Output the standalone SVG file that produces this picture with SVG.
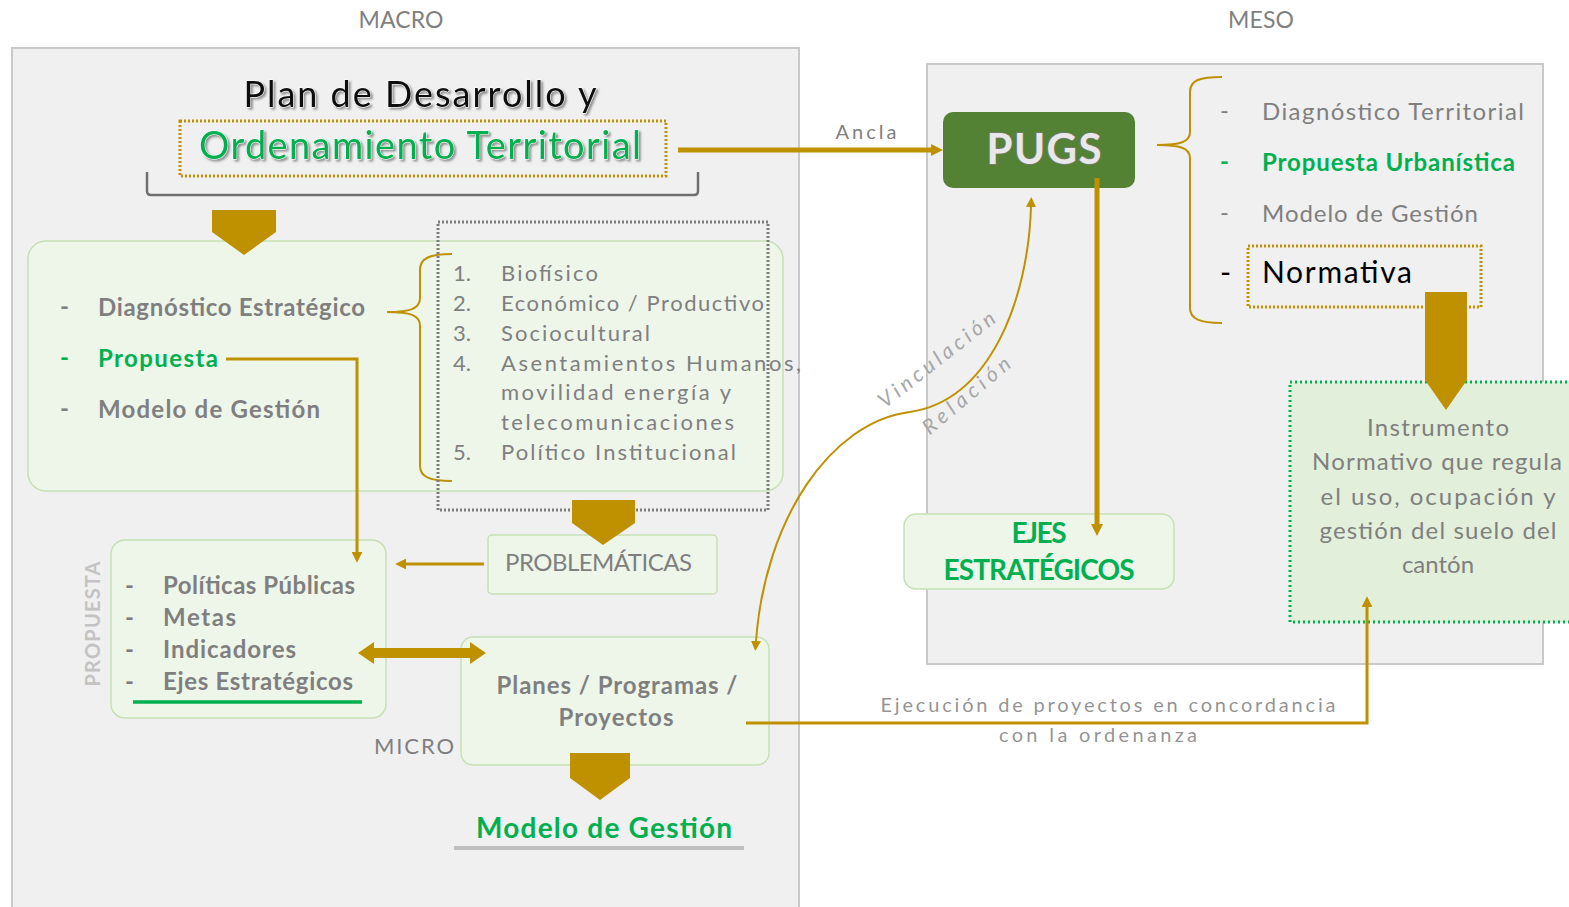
<svg xmlns="http://www.w3.org/2000/svg" width="1569" height="907" viewBox="0 0 1569 907">
<style>
text{font-family:Lato,"Liberation Sans",sans-serif}
.gray{fill:#7f7f7f}
.green{fill:#00b050}
.b{font-weight:bold}
.panel{fill:#f0f0f0;stroke:#c9c9c9;stroke-width:2}
.gbox{fill:#eef6e9;stroke:#c6e0b4;stroke-width:1.5}
.gold{fill:#bf9000}
.line{fill:none;stroke:#bf9000}
.dotg{fill:none;stroke:#bf9000;stroke-width:3;stroke-dasharray:2 2}
</style>
<defs>
<marker id="ahk" viewBox="0 0 10 10" refX="0" refY="5" markerWidth="2.4" markerHeight="3.2" orient="auto-start-reverse"><path d="M0,0 L10,5 L0,10 z" fill="#bf9000"/></marker>
<marker id="ahs" viewBox="0 0 10 10" refX="0" refY="5" markerWidth="3.6" markerHeight="3.6" orient="auto-start-reverse"><path d="M0,0 L10,5 L0,10 z" fill="#bf9000"/></marker>
<marker id="aht" viewBox="0 0 10 10" refX="0" refY="5" markerWidth="5" markerHeight="5" orient="auto-start-reverse"><path d="M0,0 L10,5 L0,10 z" fill="#bf9000"/></marker>
<filter id="sh" x="-10%" y="-10%" width="130%" height="140%"><feDropShadow dx="2" dy="2" stdDeviation="0.8" flood-color="#888" flood-opacity="0.9"/></filter>
</defs>
<rect width="1569" height="907" fill="#ffffff"/>

<g id="macro-panel">
<rect class="panel" x="12" y="48" width="787" height="880"/>
<text x="401" y="28" text-anchor="middle" class="gray" font-size="23" textLength="85">MACRO</text>
</g>
<g id="meso-panel">
<rect class="panel" x="927" y="64" width="616" height="600"/>
<text x="1261" y="28" text-anchor="middle" class="gray" font-size="23" textLength="66">MESO</text>
</g>

<g id="title">
<text x="420" y="107" text-anchor="middle" font-size="36" fill="#111" stroke="#fff" stroke-width="1" paint-order="stroke" filter="url(#sh)" textLength="353">Plan de Desarrollo y</text>
<rect class="dotg" x="180" y="121" width="486" height="55"/>
<text x="420" y="159" text-anchor="middle" font-size="38" class="green" stroke="#fff" stroke-width="1" paint-order="stroke" filter="url(#sh)" textLength="442">Ordenamiento Territorial</text>
<path d="M147,172 L147,191 Q147,195 151,195 L694,195 Q698,195 698,191 L698,172" fill="none" stroke="#6f6f6f" stroke-width="2.5"/>
</g>

<g id="pdot-box">
<rect class="gbox" x="28" y="241" width="755" height="250" rx="18"/>
<text x="60" y="315" class="gray b" font-size="24">-</text>
<text x="98" y="316" class="gray b" font-size="24" textLength="267">Diagnóstico Estratégico</text>
<text x="60" y="366" class="green b" font-size="24">-</text>
<text x="98" y="367" class="green b" font-size="24" textLength="120">Propuesta</text>
<text x="60" y="417" class="gray b" font-size="24">-</text>
<text x="98" y="418" class="gray b" font-size="24" textLength="222">Modelo de Gestión</text>
<path class="line" stroke-width="2" d="M452,254 C430,254 420,258 420,270 L420,298 C420,309 410,312 387,312 C410,312 420,315 420,326 L420,466 C420,477 430,481 452,481"/>
</g>

<g id="componentes">
<rect x="438" y="222" width="330" height="288" fill="none" stroke="#7a7a7a" stroke-width="3" stroke-dasharray="2 2"/>
<g class="gray" font-size="22">
<text x="453" y="281">1.</text><text x="501" y="281" textLength="97">Biofísico</text>
<text x="453" y="311">2.</text><text x="501" y="311" textLength="263">Económico / Productivo</text>
<text x="453" y="341">3.</text><text x="501" y="341" textLength="149">Sociocultural</text>
<text x="453" y="371">4.</text><text x="501" y="371" textLength="300">Asentamientos Humanos,</text>
<text x="501" y="400" textLength="230">movilidad energía y</text>
<text x="501" y="430" textLength="233">telecomunicaciones</text>
<text x="453" y="460">5.</text><text x="501" y="460" textLength="235">Político Institucional</text>
</g>
</g>

<g id="problematicas">
<rect class="gbox" x="488" y="535" width="229" height="59" rx="4"/>
<text x="505" y="571" class="gray" font-size="24" textLength="187">PROBLEMÁTICAS</text>
</g>

<g id="propuesta-box">
<rect class="gbox" x="111" y="540" width="275" height="178" rx="14"/>
<text transform="translate(100,624) rotate(-90)" text-anchor="middle" font-size="20" font-weight="bold" fill="#c3c3c3" textLength="125">PROPUESTA</text>
<g class="gray b" font-size="24">
<text x="125" y="594">-</text><text x="163" y="594" textLength="192">Políticas Públicas</text>
<text x="125" y="626">-</text><text x="163" y="626" textLength="73">Metas</text>
<text x="125" y="658">-</text><text x="163" y="658" textLength="133">Indicadores</text>
<text x="125" y="690">-</text><text x="163" y="690" textLength="190">Ejes Estratégicos</text>
</g>
<line x1="133" y1="702" x2="362" y2="702" stroke="#00b050" stroke-width="3.5"/>
</g>

<g id="planes">
<rect class="gbox" x="461" y="637" width="308" height="128" rx="12"/>
<text x="617" y="694" text-anchor="middle" class="gray b" font-size="24" textLength="241">Planes / Programas /</text>
<text x="616" y="726" text-anchor="middle" class="gray b" font-size="24" textLength="115">Proyectos</text>
<text x="374" y="754" class="gray" font-size="22" textLength="80">MICRO</text>
</g>

<g id="modelo-gestion">
<text x="604" y="838" text-anchor="middle" class="green b" font-size="28" textLength="256">Modelo de Gestión</text>
<line x1="454" y1="848" x2="744" y2="848" stroke="#bfbfbf" stroke-width="4"/>
</g>

<g id="pugs">
<rect x="943" y="112" width="192" height="76" rx="10" fill="#548235"/>
<text x="1044" y="164" text-anchor="middle" font-size="42" font-weight="bold" fill="#e8e8e8" stroke="#7a7a7a" stroke-width="1.5" paint-order="stroke" textLength="115">PUGS</text>
</g>

<g id="meso-list">
<path class="line" stroke-width="2" d="M1222,77 C1200,77 1190,80 1190,92 L1190,132 C1190,142 1180,145 1157,145 C1180,145 1190,148 1190,158 L1190,308 C1190,319 1200,323 1222,323"/>
<text x="1220" y="119" class="gray" font-size="24">-</text>
<text x="1262" y="120" class="gray" font-size="24" textLength="262">Diagnóstico Territorial</text>
<text x="1220" y="170" class="green b" font-size="24">-</text>
<text x="1262" y="171" class="green b" font-size="24" textLength="253">Propuesta Urbanística</text>
<text x="1220" y="221" class="gray" font-size="24">-</text>
<text x="1262" y="222" class="gray" font-size="24" textLength="216">Modelo de Gestión</text>
<rect class="dotg" x="1248" y="246" width="233" height="61"/>
<text x="1220" y="283" fill="#000" font-size="30">-</text>
<text x="1262" y="283" fill="#000" font-size="30" textLength="150">Normativa</text>
</g>

<g id="ejes">
<rect class="gbox" x="904" y="514" width="270" height="75" rx="12"/>
<text x="1039" y="543" text-anchor="middle" class="green b" font-size="28" textLength="55">EJES</text>
<text x="1039" y="580" text-anchor="middle" class="green b" font-size="28" textLength="191">ESTRATÉGICOS</text>
</g>

<g id="instrumento">
<rect x="1290" y="382" width="290" height="240" fill="#e2efda" stroke="#00b050" stroke-width="3" stroke-dasharray="2 3"/>
<g class="gray" font-size="24" text-anchor="middle">
<text x="1438" y="436" textLength="142">Instrumento</text>
<text x="1437" y="470" textLength="250">Normativo que regula</text>
<text x="1438" y="505" textLength="235">el uso, ocupación y</text>
<text x="1438" y="539" textLength="237">gestión del suelo del</text>
<text x="1438" y="573">cantón</text>
</g>
</g>

<g id="connectors">
<polygon class="gold" points="212,210 276,210 276,232 244,255 212,232"/>
<polygon class="gold" points="572,500 635,500 635,523 603,545 572,523"/>
<polygon class="gold" points="570,753 630,753 630,778 600,800 570,778"/>
<polygon class="gold" points="1425,292 1467,292 1467,380 1446,410 1425,380"/>
<line x1="678" y1="150" x2="931" y2="150" class="line" stroke-width="5" marker-end="url(#ahk)"/>
<text x="866" y="139" text-anchor="middle" class="gray" font-size="20" textLength="61">Ancla</text>
<line x1="1097" y1="178" x2="1097" y2="524" class="line" stroke-width="5" marker-end="url(#ahk)"/>
<path d="M226,359 L357,359 L357,552" class="line" stroke-width="3" marker-end="url(#ahs)"/>
<line x1="484" y1="564" x2="406" y2="564" class="line" stroke-width="3" marker-end="url(#ahs)"/>
<polygon class="gold" points="358,653 374,642 374,648 470,648 470,642 486,653 470,664 470,658 374,658 374,664"/>
<path d="M1031,207 C1028,300 990,400 910,412 C830,422 765,520 756,641" class="line" stroke-width="2" marker-start="url(#aht)" marker-end="url(#aht)"/>
<text transform="translate(941,365) rotate(-38)" text-anchor="middle" font-size="21" font-style="italic" fill="#a6a6a6" textLength="142">Vinculación</text>
<text transform="translate(971,401) rotate(-40)" text-anchor="middle" font-size="21" font-style="italic" fill="#a6a6a6" textLength="108">Relación</text>
<path d="M746,723 L1367,723 L1367,607" class="line" stroke-width="3" marker-end="url(#ahs)"/>
<text x="1108" y="712" text-anchor="middle" class="gray" font-size="20" fill-opacity="0.85" textLength="455">Ejecución de proyectos en concordancia</text>
<text x="1098" y="742" text-anchor="middle" class="gray" font-size="20" fill-opacity="0.85" textLength="198">con la ordenanza</text>
</g>
</svg>
